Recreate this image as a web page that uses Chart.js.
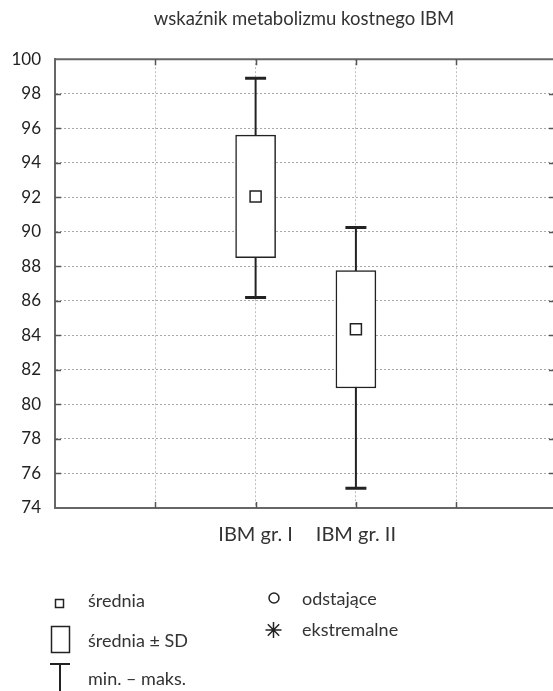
<!DOCTYPE html>
<html>
<head>
<meta charset="utf-8">
<script src="https://cdn.jsdelivr.net/npm/chart.js@4"></script>
<style>
  html, body { margin: 0; padding: 0; background: #fff; }
  #wrap { width: 553px; height: 691px; }
</style>
</head>
<body>
<div id="wrap"><canvas id="chart"></canvas></div>
<script>
const titleText = "wskaźnik metabolizmu kostnego IBM"
const groups = ["IBM gr. I", "IBM gr. II"]
const groupPos = [2, 3]
const means = [92.05, 84.35]
const sdLow = [88.5, 80.95]
const sdHigh = [95.6, 87.75]
const mins = [86.2, 75.15]
const maxs = [98.9, 90.25]
const yTicks = [74, 76, 78, 80, 82, 84, 86, 88, 90, 92, 94, 96, 98, 100]
const legendLabels = ["średnia", "średnia ± SD", "min. – maks.", "odstające", "ekstremalne"]

const font = "Lato, 'DejaVu Sans', sans-serif"
const ink = "#222"

// whisker segments, broken with null between groups
let whiskerData = []
groupPos.forEach((x, i) => {
    whiskerData.push({x: x, y: mins[i]}, {x: x, y: maxs[i]}, {x: x, y: null})
})
let capData = []
groupPos.forEach((x, i) => {
    capData.push({x: x, y: mins[i]}, {x: x, y: maxs[i]})
})

// frame: top border + inward ticks, and the legend below
const framePlugin = {
    id: "frame",
    afterDraw(chart) {
        const ctx = chart.ctx
        const a = chart.chartArea
        const xs = chart.scales.x
        const ys = chart.scales.y
        ctx.save()
        ctx.strokeStyle = "#666"
        ctx.lineWidth = 2
        ctx.beginPath()
        ctx.moveTo(a.left - 1, a.top)
        ctx.lineTo(a.right, a.top)
        ctx.stroke()
        ctx.lineWidth = 1.5
        ctx.strokeStyle = "#555"
        ctx.beginPath()
        for (let v = 1; v <= 4; v++) {
            const px = Math.round(xs.getPixelForValue(v)) + 0.5
            ctx.moveTo(px, a.top); ctx.lineTo(px, a.top + 6)
            ctx.moveTo(px, a.bottom); ctx.lineTo(px, a.bottom - 6)
        }
        yTicks.slice(1, -1).forEach(v => {
            const py = Math.round(ys.getPixelForValue(v)) + 0.5
            ctx.moveTo(a.left, py); ctx.lineTo(a.left + 6, py)
            ctx.moveTo(a.right, py); ctx.lineTo(a.right - 4, py)
        })
        ctx.stroke()

        // legend
        ctx.strokeStyle = ink
        ctx.fillStyle = "#333"
        ctx.lineWidth = 1.5
        ctx.font = "18px " + font
        ctx.textBaseline = "middle"
        ctx.textAlign = "left"
        ctx.strokeRect(55.5, 599.5, 8, 8)
        ctx.fillText(legendLabels[0], 88, 601)
        ctx.strokeRect(51.5, 626.5, 18, 26)
        ctx.fillText(legendLabels[1], 88, 641)
        ctx.lineWidth = 2
        ctx.beginPath()
        ctx.moveTo(50, 664); ctx.lineTo(70, 664)
        ctx.moveTo(60, 664); ctx.lineTo(60, 691)
        ctx.stroke()
        ctx.fillText(legendLabels[2], 88, 679)
        ctx.lineWidth = 1.5
        ctx.beginPath()
        ctx.arc(274, 598, 5, 0, Math.PI * 2)
        ctx.stroke()
        ctx.fillText(legendLabels[3], 302, 599)
        ctx.beginPath()
        const cx = 273.5, cy = 630, r = 8
        for (let k = 0; k < 4; k++) {
            const ang = k * Math.PI / 4
            ctx.moveTo(cx - r * Math.cos(ang), cy - r * Math.sin(ang))
            ctx.lineTo(cx + r * Math.cos(ang), cy + r * Math.sin(ang))
        }
        ctx.stroke()
        ctx.fillText(legendLabels[4], 302, 630)
        ctx.restore()
    }
}

new Chart(document.getElementById("chart"), {
    type: "bar",
    plugins: [framePlugin],
    data: {
        datasets: [
            {
                type: "line",
                data: whiskerData,
                borderColor: ink,
                borderWidth: 2,
                pointRadius: 0,
                spanGaps: false,
                order: 4
            },
            {
                type: "bar",
                data: groupPos.map((x, i) => ({x: x, y: [sdLow[i], sdHigh[i]]})),
                backgroundColor: "#fff",
                borderColor: ink,
                borderWidth: 1.5,
                borderSkipped: false,
                barThickness: 40,
                order: 3
            },
            {
                type: "scatter",
                data: capData,
                pointStyle: "line",
                pointRadius: 10.5,
                borderColor: ink,
                borderWidth: 3,
                order: 2
            },
            {
                type: "scatter",
                data: groupPos.map((x, i) => ({x: x, y: means[i]})),
                pointStyle: "rect",
                pointRadius: 7.8,
                backgroundColor: "#fff",
                borderColor: ink,
                borderWidth: 1.5,
                order: 1
            }
        ]
    },
    options: {
        responsive: true,
        maintainAspectRatio: false,
        animation: false,
        layout: {autoPadding: false, padding: {left: 0, right: 0, top: 0, bottom: 0}},
        plugins: {
            legend: {display: false},
            tooltip: {enabled: false},
            title: {
                display: true,
                fullSize: false,
                text: titleText,
                color: "#333",
                font: {family: font, size: 18.5, weight: "normal"},
                padding: {top: 8, bottom: 29}
            }
        },
        scales: {
            x: {
                type: "linear",
                min: 0,
                max: 4.965,
                offset: false,
                afterBuildTicks: s => { s.ticks = [1, 2, 3, 4].map(v => ({value: v})) },
                afterFit: s => { s.height = 183; s.paddingRight = 0; s.paddingLeft = 0 },
                ticks: {
                    autoSkip: false,
                    maxRotation: 0,
                    padding: 15,
                    color: "#333",
                    font: {family: font, size: 20},
                    callback: v => {
                        const i = groupPos.indexOf(v)
                        return i >= 0 ? groups[i] : ""
                    }
                },
                grid: {color: "#bdbdbd", drawTicks: false, lineWidth: 1, offset: false},
                border: {display: true, color: "#666", width: 2, dash: [2, 2]}
            },
            y: {
                min: 74,
                max: 100,
                afterBuildTicks: s => { s.ticks = yTicks.map(v => ({value: v})) },
                afterFit: s => { s.width = 55 },
                ticks: {
                    padding: 14,
                    color: "#222",
                    font: {family: font, size: 17}
                },
                grid: {color: "#a8a8a8", drawTicks: false, lineWidth: 1},
                border: {display: true, color: "#666", width: 2, dash: [2, 2]}
            }
        }
    }
})
</script>
</body>
</html>
